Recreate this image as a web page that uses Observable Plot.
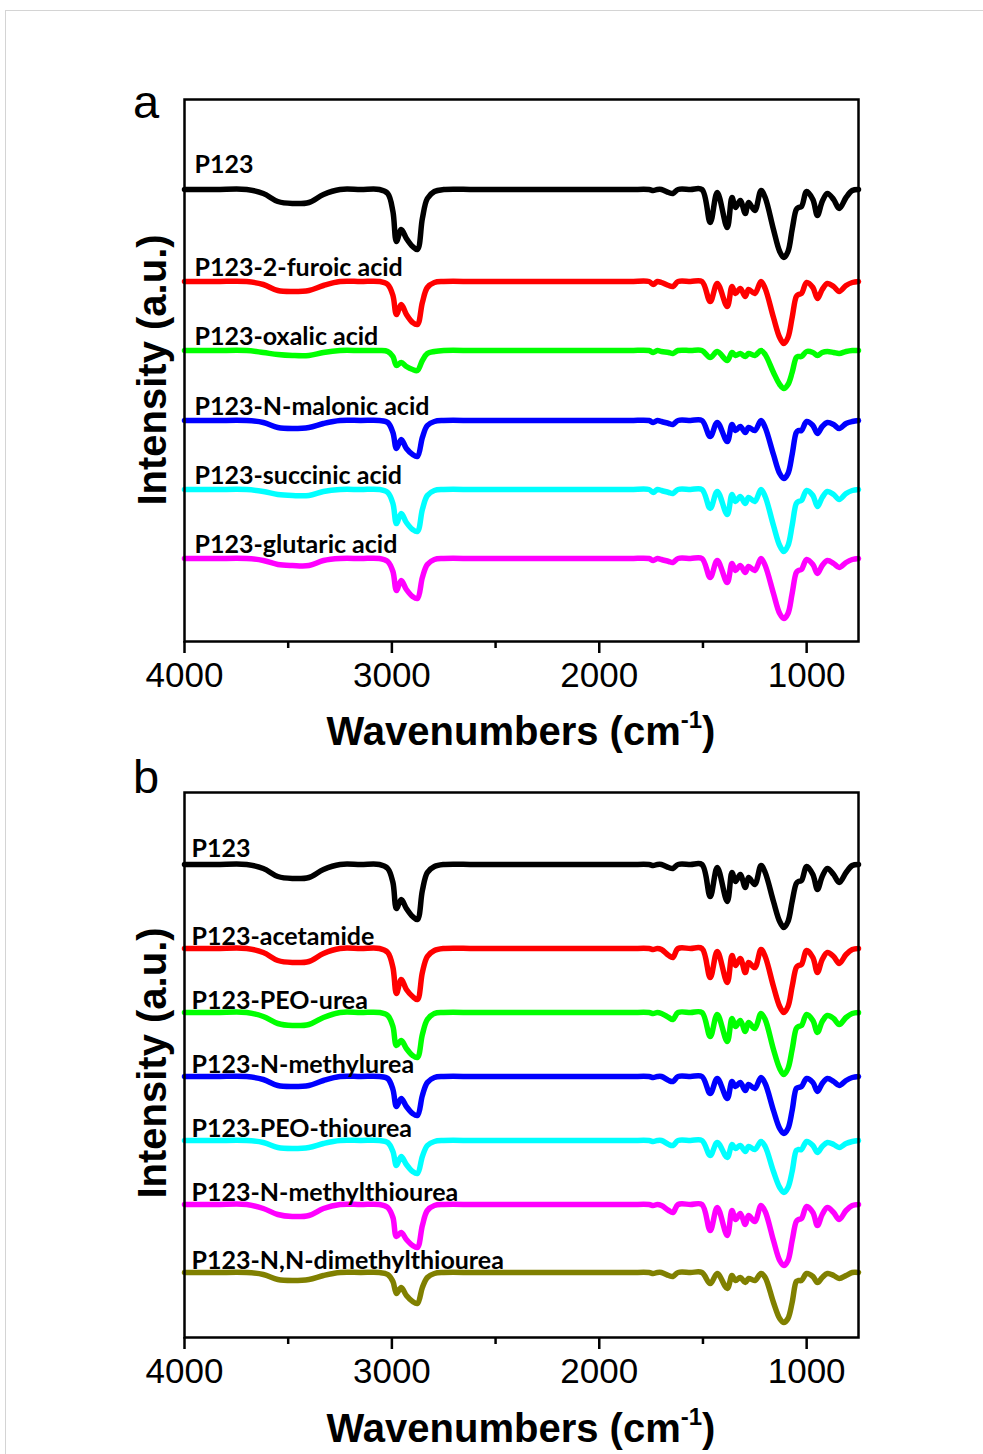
<!DOCTYPE html>
<html>
<head>
<meta charset="utf-8">
<script src="https://cdn.jsdelivr.net/npm/d3@7"></script>
<script src="https://cdn.jsdelivr.net/npm/@observablehq/plot@0.6"></script>
<style>
  html, body { margin: 0; padding: 0; background: #fff; }
  #fig { position: relative; width: 983px; height: 1454px; overflow: hidden; }
  #border { position: absolute; left: 5px; top: 10px; width: 990px; height: 1460px; border-left: 1px solid #d4d4d4; border-top: 1px solid #d4d4d4; }
  .panel { position: absolute; left: 0; }
</style>
</head>
<body>
<div id="fig"><div id="border"></div></div>
<script>
// ---- shared x grid (wavenumber, cm-1) ----
const wavenumbers = [4000, 3850, 3700, 3620, 3550, 3480, 3400, 3330, 3250, 3150,
  3060, 3020, 2995, 2978, 2955, 2930, 2900, 2877, 2853, 2829, 2795, 2750,
  2600, 2400, 2200, 2000, 1850,
  1760, 1740, 1720, 1700, 1665, 1645, 1620, 1560,
  1505, 1465, 1431, 1383, 1360, 1343, 1320, 1296, 1280, 1250,
  1220, 1200, 1160, 1130, 1110, 1090, 1070, 1050, 1040, 1025,
  1000, 970, 948, 925, 900, 870, 843, 810, 780, 750];

// ---- panel a: absorption dips (a.u.) ----
const a_P123     = [0,0,0,4,12,14,13,5,0,0, 0,4,22,52,40,49,57,60,29,9,2,0, 0,0,0,0,0, 0,1,0,0,3,4,0,0, 0,33,3,38,8,18,11,24,13,21,1,8,40,62,68,62,40,20,18,17,2,10,26,12,4,10,19,8,1,0];
const a_furoic   = [0,0,0,3,9,10,9,4,0,0, 0,3,14,33,23,33,41,43,21,6,1,0, 0,0,0,0,0, 0,3,0,1,4,5,0,0, 0,20,2,25,5,12,7,15,8,12,0,7,36,56,62,56,36,15,13,12,1,6,17,8,2,5,10,4,1,0];
const a_oxalic   = [0,0,0,2,4,5,5,2,0,0, 0,1,6,15,12,16,19,20,10,3,1,0, 0,0,0,0,0, 0,2,0,1,2,3,0,0, 0,7,1,10,2,5,3,6,3,5,0,4,22,34,38,34,22,7,6,6,1,2,5,2,1,2,3,1,0,0];
const a_malonic  = [0,0,0,2,7,8,7,3,0,0, 0,2,12,28,19,28,34,36,17,5,1,0, 0,0,0,0,0, 0,2,0,1,3,4,0,0, 0,16,2,21,4,10,6,12,7,10,0,7,34,53,58,53,34,12,10,10,1,5,13,6,2,4,8,3,1,0];
const a_succinic = [0,0,0,2,5,6,6,2,0,0, 0,3,14,34,24,33,40,42,20,6,1,0, 0,0,0,0,0, 0,3,0,1,3,4,0,0, 0,19,2,25,5,12,7,14,8,12,0,7,36,56,62,56,36,14,12,11,1,6,17,8,2,5,10,4,1,0];
const a_glutaric = [0,0,0,2,6,7,7,2,0,0, 0,3,13,32,22,31,38,40,19,6,1,0, 0,0,0,0,0, 0,2,0,1,3,4,0,0, 0,19,2,24,5,12,7,14,8,12,0,7,35,55,60,55,35,14,12,11,1,6,15,7,2,5,9,4,1,0];

const namesA   = ["P123", "P123-2-furoic acid", "P123-oxalic acid", "P123-N-malonic acid", "P123-succinic acid", "P123-glutaric acid"];
const offsetsA = [452, 360, 291, 221, 152, 83];   // stacking offsets (a.u.)
const seriesA  = [a_P123, a_furoic, a_oxalic, a_malonic, a_succinic, a_glutaric];

// ---- panel b ----
const b_P123             = [0,0,0,4,12,14,13,5,0,0, 0,4,18,44,35,44,52,55,26,8,2,0, 0,0,0,0,0, 0,1,0,0,3,4,0,0, 0,32,3,37,8,17,10,23,13,20,1,8,37,57,63,57,37,19,17,16,2,10,25,12,4,10,18,8,1,0];
const b_acetamide        = [0,0,0,4,12,14,13,5,0,0, 0,4,19,45,31,41,48,51,24,8,2,0, 0,0,0,0,0, 0,1,0,1,7,9,0,0, 0,29,3,34,7,17,10,24,14,19,1,8,38,58,64,58,38,19,17,16,2,9,24,11,4,8,15,6,1,0];
const b_peoUrea          = [0,0,0,4,11,13,12,5,0,0, 0,3,14,33,28,36,43,45,22,7,1,0, 0,0,0,0,0, 0,1,0,1,5,7,0,0, 0,24,2,29,6,14,8,19,10,16,1,7,37,56,62,56,37,16,14,13,2,8,20,9,3,6,12,5,1,0];
const b_methylurea       = [0,0,0,3,9,10,9,4,0,0, 0,2,13,30,22,30,37,39,19,6,1,0, 0,0,0,0,0, 0,1,0,0,4,5,0,0, 0,17,2,22,5,10,6,14,8,12,1,7,34,52,57,52,34,12,11,10,2,6,15,7,2,5,9,4,1,0];
const b_peoThiourea      = [0,0,0,2,7,8,7,3,0,0, 0,2,11,25,16,24,31,33,16,5,1,0, 0,0,0,0,0, 0,1,0,0,4,5,0,0, 0,15,2,17,4,8,5,11,6,9,1,6,31,47,52,47,31,10,9,9,1,5,12,6,2,4,7,3,1,0];
const b_methylthiourea   = [0,0,0,4,10,12,11,4,0,0, 0,3,13,32,28,35,41,43,21,6,1,0, 0,0,0,0,0, 0,1,0,1,6,8,0,0, 0,26,3,31,6,15,9,20,11,17,1,7,36,56,61,56,36,17,15,14,2,8,21,10,3,8,15,6,1,0];
const b_dimethylthiourea = [0,0,0,2,7,8,7,3,0,0, 0,2,9,21,15,23,29,31,15,5,1,0, 0,0,0,0,0, 0,1,0,0,3,4,0,0, 0,11,1,16,3,8,5,10,6,8,1,5,30,46,50,46,30,9,8,8,1,4,10,5,1,3,6,3,0,0];

const namesB   = ["P123", "P123-acetamide", "P123-PEO-urea", "P123-N-methylurea", "P123-PEO-thiourea", "P123-N-methylthiourea", "P123-N,N-dimethylthiourea"];
const offsetsB = [473, 389, 325, 261, 197, 133, 65];
const seriesB  = [b_P123, b_acetamide, b_peoUrea, b_methylurea, b_peoThiourea, b_methylthiourea, b_dimethylthiourea];

const majorTicks = [4000, 3000, 2000, 1000];
const minorTicks = [3500, 2500, 1500];

const colorsA = ["#000000", "#ff0000", "#00ff00", "#0000ff", "#00ffff", "#ff00ff"];
const colorsB = ["#000000", "#ff0000", "#00ff00", "#0000ff", "#00ffff", "#ff00ff", "#808000"];

function buildRows(names, offsets, series) {
  const rows = [];
  names.forEach((n, i) => {
    wavenumbers.forEach((w, j) => rows.push({key: i, series: n, wn: w, v: offsets[i] - series[i][j]}));
  });
  return rows;
}

function panel(opts) {
  const {names, offsets, series, colors, yMax, mt, mb, dxLab, dyFirst, dyRest, letter, letterY, titleY, yTitleY} = opts;
  const rows = buildRows(names, offsets, series);
  const labels = names.map((n, i) => ({name: n, y: offsets[i], wn: 4000}));
  const keys = names.map((n, i) => i);
  const labFont = {fontFamily: "Lato", fontWeight: "bold", fontSize: 25, fill: "black", textAnchor: "start"};
  const svg = Plot.plot({
    width: 983, height: 727,
    marginLeft: 184, marginRight: 125, marginTop: mt, marginBottom: mb,
    x: {domain: [4000, 750]},
    y: {domain: [0, yMax], axis: null},
    color: {domain: keys, range: colors},
    style: {background: "transparent", overflow: "visible"},
    marks: [
      Plot.line(rows, {x: "wn", y: "v", z: "key", stroke: "key", strokeWidth: 5.5, curve: "catmull-rom", strokeLinejoin: "round", strokeLinecap: "round"}),
      Plot.text(labels.slice(0, 1), {x: "wn", y: "y", text: "name", dx: dxLab, dy: dyFirst, ...labFont}),
      Plot.text(labels.slice(1), {x: "wn", y: "y", text: "name", dx: dxLab, dy: dyRest, ...labFont}),
      Plot.frame({stroke: "black", strokeWidth: 2.5}),
      Plot.axisX({ticks: majorTicks, tickSize: 12, tickPadding: 9, strokeWidth: 2.5, fontSize: 35, fontFamily: "Liberation Sans, Arial, sans-serif", tickFormat: d => String(d), label: null}),
      Plot.axisX({ticks: minorTicks, tickSize: 7, strokeWidth: 2.5, tickFormat: () => "", label: null})
    ]
  });
  const s = d3.select(svg);
  s.selectAll("g[aria-label='text'] text").style("letter-spacing", "0px");
  // panel letter
  s.append("text").attr("x", 146).attr("y", letterY)
    .attr("font-family", "Liberation Sans, Arial, sans-serif").attr("font-size", 47).attr("fill", "black")
    .text(letter);
  // x title
  const t = s.append("text").attr("x", 521).attr("y", titleY).attr("text-anchor", "middle")
    .attr("font-family", "Liberation Sans, Arial, sans-serif").attr("font-weight", "bold").attr("font-size", 40).attr("fill", "black");
  t.append("tspan").text("Wavenumbers (cm");
  t.append("tspan").attr("font-size", 24).attr("dy", -17).text("-1");
  t.append("tspan").attr("dy", 17).text(")");
  // y title
  s.append("text").attr("transform", `translate(166,${yTitleY}) rotate(-90)`).attr("text-anchor", "middle")
    .attr("font-family", "Liberation Sans, Arial, sans-serif").attr("font-weight", "bold").attr("font-size", 40).attr("fill", "black")
    .text("Intensity (a.u.)");
  return svg;
}

const fig = document.getElementById("fig");
const pa = panel({names: namesA, offsets: offsetsA, series: seriesA, colors: colorsA, yMax: 542, mt: 99, mb: 86,
  dxLab: 10, dyFirst: -25, dyRest: -14, letter: "a", letterY: 118, titleY: 745, yTitleY: 370});
pa.classList.add("panel"); pa.style.top = "0px";
fig.appendChild(pa);
const pb = panel({names: namesB, offsets: offsetsB, series: seriesB, colors: colorsB, yMax: 545, mt: 65, mb: 117,
  dxLab: 7, dyFirst: -16, dyRest: -12, letter: "b", letterY: 66, titleY: 715, yTitleY: 336});
pb.classList.add("panel"); pb.style.top = "727px";
fig.appendChild(pb);
</script>
</body>
</html>
